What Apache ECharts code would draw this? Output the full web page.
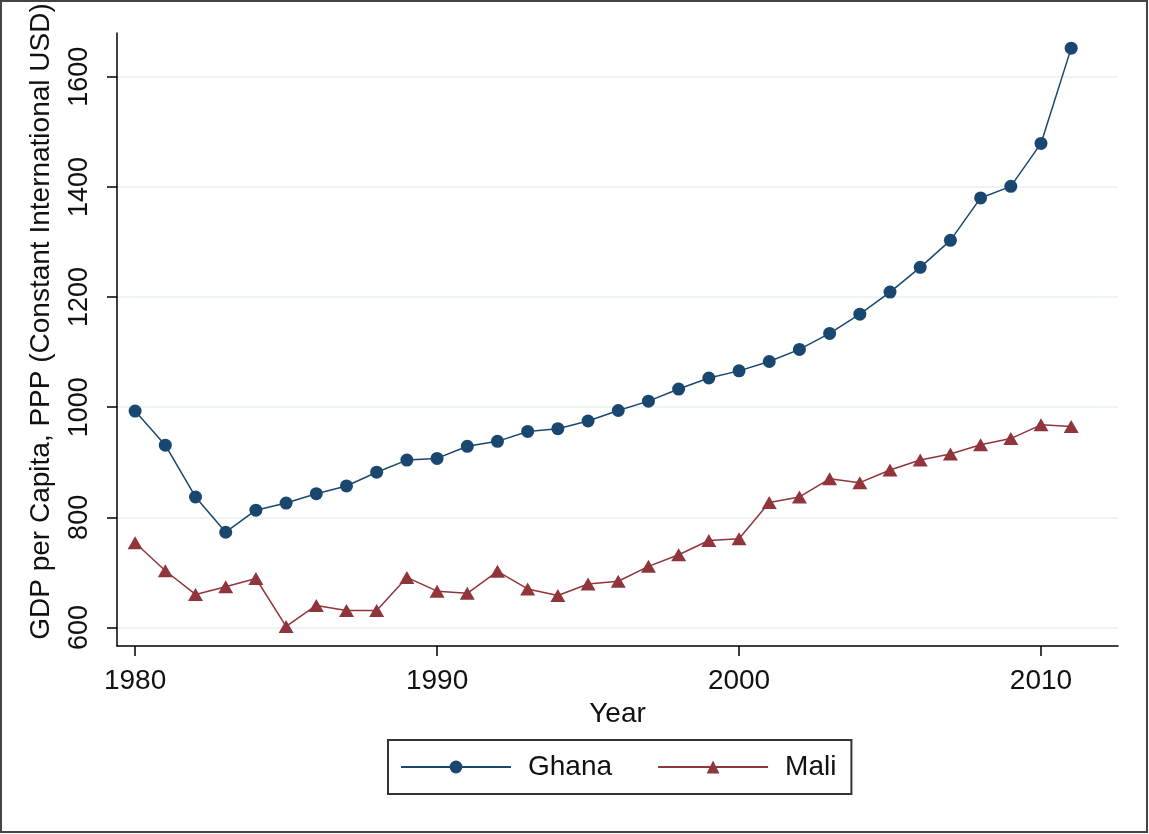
<!DOCTYPE html>
<html>
<head>
<meta charset="utf-8">
<script src="https://cdn.jsdelivr.net/npm/echarts@6/dist/echarts.min.js"></script>
<style>
html,body{margin:0;padding:0;background:#fff;}
#chart{width:1149px;height:834px;}
</style>
</head>
<body>
<div id="chart"></div>
<script>
var years = [1980,1981,1982,1983,1984,1985,1986,1987,1988,1989,1990,1991,1992,1993,1994,1995,1996,1997,1998,1999,2000,2001,2002,2003,2004,2005,2006,2007,2008,2009,2010,2011];
var ghana = [993,931,837,773,813,826,843,857,882,904,907,929,938,956,961,975,994,1011,1033,1053,1066,1083,1105,1134,1169,1209,1254,1303,1380,1401,1479,1652];
var mali  = [754,703,660,674,689,602,640,631,631,691,666,662,702,670,658,679,684,711,732,758,761,827,837,870,863,886,904,915,932,943,968,965];
var xTicks = [1980,1990,2000,2010];
var yTicks = [600,800,1000,1200,1400,1600];
var seriesNames = ['Ghana','Mali'];
var yTitle = 'GDP per Capita, PPP (Constant International USD)';
var xTitle = 'Year';

function pairs(vals){ return years.map(function(y,i){ return [y, vals[i]]; }); }

var FONT = 'Liberation Sans, Arial, sans-serif';
var TXT = '#111';
var chart = echarts.init(document.getElementById('chart'), null, {renderer:'canvas'});
chart.setOption({
  backgroundColor:'#fff',
  animation:false,
  graphic:[{
    type:'rect', shape:{x:1,y:1,width:1146,height:831},
    style:{fill:'none', stroke:'#444', lineWidth:2}, silent:true
  }],
  grid:{left:117, right:31, top:33, bottom:188},
  legend:{
    data: seriesNames,
    left:388, top:740,
    orient:'horizontal',
    padding:[13,15,13,12],
    borderColor:'#333', borderWidth:2,
    itemWidth:110, itemHeight:16, itemGap:45,
    textStyle:{fontSize:28, fontFamily:FONT, color:TXT, padding:[0,0,0,12]}
  },
  xAxis:{
    type:'value', min:1979.4, max:2012.55,
    name:xTitle, nameLocation:'middle', nameGap:42,
    nameTextStyle:{fontSize:28, fontFamily:FONT, color:TXT},
    axisLine:{show:true, lineStyle:{color:'#000', width:1.5}},
    axisTick:{show:true, length:10, customValues:xTicks, lineStyle:{color:'#000', width:1.5}},
    axisLabel:{customValues:xTicks, margin:21, fontSize:28, fontFamily:FONT, color:TXT,
      formatter:function(v){return String(v);}},
    splitLine:{show:false}
  },
  yAxis:{
    type:'value', min:566.4, max:1679.5,
    name:yTitle, nameLocation:'middle', nameGap:62, nameRotate:90,
    nameTextStyle:{fontSize:28, fontFamily:FONT, color:TXT, padding:[0,0,0,36]},
    axisLine:{show:true, lineStyle:{color:'#000', width:1.5}},
    axisTick:{show:true, length:10, customValues:yTicks, lineStyle:{color:'#000', width:1.5}},
    axisLabel:{customValues:yTicks, rotate:90, margin:24, fontSize:27, fontFamily:FONT, color:TXT,
      formatter:function(v){return String(v);}},
    splitLine:{show:true, lineStyle:{color:'#e8f1f2', width:1.5}}
  },
  series:[
    {name:seriesNames[0], type:'line', data:pairs(ghana),
     symbol:'circle', symbolSize:13, showAllSymbol:true,
     lineStyle:{color:'#1a476f', width:1.5}, itemStyle:{color:'#1a476f'}},
    {name:seriesNames[1], type:'line', data:pairs(mali),
     symbol:'triangle', symbolSize:[15,13], showAllSymbol:true,
     lineStyle:{color:'#90353b', width:1.5}, itemStyle:{color:'#90353b'}}
  ]
});
</script>
</body>
</html>
